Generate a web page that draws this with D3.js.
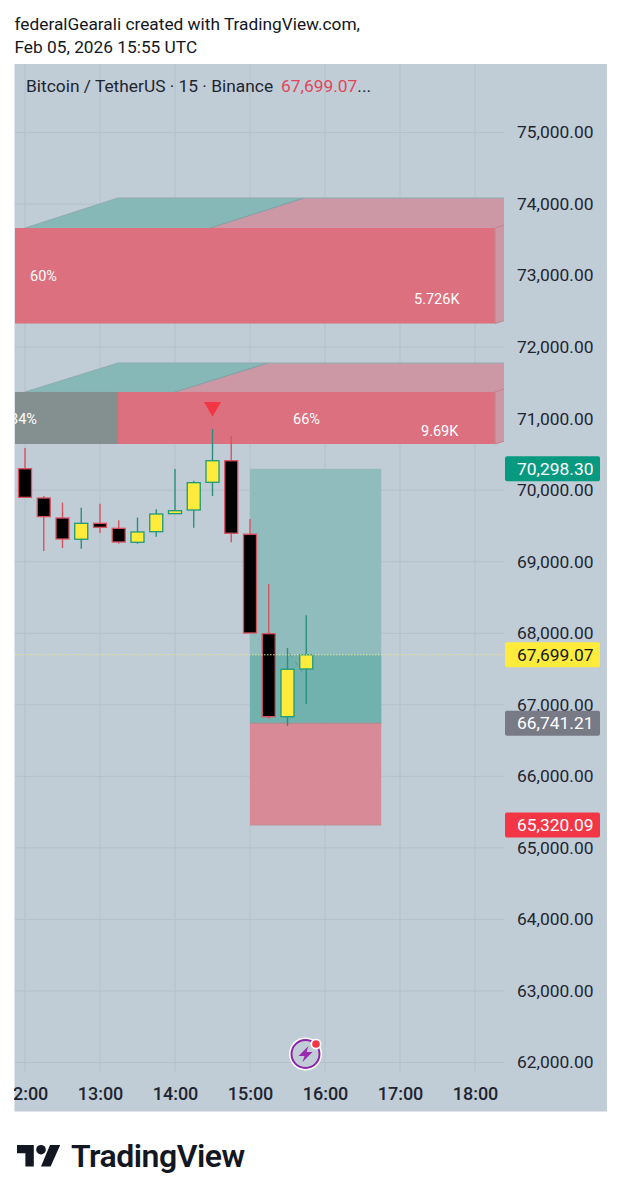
<!DOCTYPE html>
<html><head><meta charset="utf-8">
<script src="https://cdn.jsdelivr.net/npm/d3@7"></script>
<style>html,body{margin:0;padding:0;background:#fff}svg{display:block}text{font-family:Roboto,sans-serif}</style>
</head><body><svg id="c" width="622" height="1200"></svg>
<script>
const candleTimes=["12:00","12:15","12:30","12:45","13:00","13:15","13:30","13:45","14:00","14:15","14:30","14:45","15:00","15:15","15:30","15:45"];
const opens =[70300,69891,69611,69314,69537,69467,69272,69420,69672,69723,70110,70412,69384,67994,66834,67501];
const highs =[70590,69919,69825,69755,69811,69579,69616,69733,70296,70133,70856,70754,69598,68689,67794,68251];
const lows  =[69900,69150,69192,69182,69402,69252,69252,69350,69672,69476,69919,69272,68004,66806,66704,67012];
const closes=[69900,69630,69318,69537,69481,69276,69416,69667,69713,70105,70412,69398,68004,66834,67497,67699];
const priceTicks=[75000,74000,73000,72000,71000,70000,69000,68000,67000,66000,65000,64000,63000,62000];
const hourTicks=["12:00","13:00","14:00","15:00","16:00","17:00","18:00"];
const priceTags=[70298.30,67699.07,66741.21,65320.09];
const tagFills=["#089981","#ffeb3b","#787b86","#f23645"];
const tagInks=["#ffffff","#131722","#ffffff","#ffffff"];
const boxTops=[73665,71373];
const boxBottoms=[72330,70646];
const boxRoofs=[74084,71778];
const boxLabels=[["60%","5.726K"],["34%","66%","9.69K"]];
const positionTimes=["15:00","16:45"];
const positionLevels={target:70298.30,current:67699.07,entry:66741.21,stop:65320.09};

const t=s=>new Date("2026-02-05T"+s+":00Z");
const x=d3.scaleUtc().domain([t("12:00"),t("18:00")]).range([25,475]);
const y=d3.scaleLinear().domain([75000,62000]).range([132.5,1062.5]);
const fmt=d3.format(",.2f");
const svg=d3.select("#c");
const L=15,R=504,T=64,B=1072,PR=607,PB=1111.5;
const defs=svg.append("defs");
defs.append("clipPath").attr("id","pane").append("rect").attr("x",L).attr("y",T).attr("width",R-L).attr("height",B-T);
defs.append("clipPath").attr("id","tx").append("rect").attr("x",L-1).attr("y",B).attr("width",R-L).attr("height",PB-B);

svg.append("rect").attr("x",L-0.5).attr("y",T).attr("width",PR-L+0.5).attr("height",PB-T).attr("fill","#c0ccd6");

// grid
const grid="#b4c0ca";
const g=svg.append("g").attr("clip-path","url(#pane)");
g.selectAll(".v").data(hourTicks).join("line").attr("x1",d=>x(t(d))).attr("x2",d=>x(t(d))).attr("y1",T).attr("y2",B).attr("stroke",grid).attr("stroke-width",1);
g.selectAll(".h").data(priceTicks).join("line").attr("x1",L).attr("x2",R).attr("y1",d=>y(d)).attr("y2",d=>y(d)).attr("stroke",grid).attr("stroke-width",1);

// volume profile boxes
const frontRed="#dd707f",sideRed="#cc98a5",roofTeal="#86b8b8",edge="#7f9ea3";
const x0=25, dx=94;
const boxSplitTop=[210,175];
boxTops.forEach((top,i)=>{
  const yt=y(top),yb=y(boxBottoms[i]),yr=y(boxRoofs[i]);
  const ds=(yt-yr)/dx*9;
  const s=boxSplitTop[i];
  g.append("path").attr("d",`M${s},${yt}L${s+dx-(i?1:0)},${yr}L${R},${yr}L${R},${yt}Z`).attr("fill",sideRed);
  g.append("path").attr("d",`M495,${yb}L${R},${yb-ds}L${R},${yt}L495,${yt}Z`).attr("fill",sideRed);
  g.append("path").attr("d",`M${x0},${yt}L${x0+dx-1},${yr}L${s+dx-(i?1:0)},${yr}L${s},${yt}Z`).attr("fill",roofTeal);
  g.append("path").attr("d",`M${s},${yt}L${s+dx-(i?1:0)},${yr}`).attr("stroke",edge).attr("stroke-width",1).attr("fill","none");
  g.append("path").attr("d",`M${x0},${yt}L${x0+dx-1},${yr}L${R},${yr}`).attr("stroke","#8fadb1").attr("stroke-width",1).attr("fill","none");
  g.append("rect").attr("x",L).attr("y",yt).attr("width",495-L).attr("height",yb-yt).attr("fill",frontRed);
  if(i===1) g.append("rect").attr("x",L).attr("y",yt).attr("width",103).attr("height",yb-yt).attr("fill","#83908f");
  g.append("path").attr("d",`M495,${yt}L${R},${yt-ds}M495,${yb}L${R},${yb-ds}M495,${yt}V${yb}`).attr("stroke","#c4808d").attr("stroke-width",1).attr("fill","none");
});
const lab=(txt,xp,yp)=>g.append("text").attr("x",xp).attr("y",yp).attr("dy","0.35em").attr("fill","#fff").attr("font-size",14.5).text(txt);
lab(boxLabels[0][0],30,276); lab(boxLabels[0][1],414,299);
lab(boxLabels[1][0],10,419); lab(boxLabels[1][1],293,419); lab(boxLabels[1][2],421,431);

// position tool
const px1=x(t(positionTimes[0])),px2=x(t(positionTimes[1]));
const lv=positionLevels;
g.append("rect").attr("x",px1).attr("width",px2-px1).attr("y",y(lv.target)).attr("height",y(lv.entry)-y(lv.target)).attr("fill","#90bcbe");
g.append("rect").attr("x",px1).attr("width",px2-px1).attr("y",y(lv.current)).attr("height",y(lv.entry)-y(lv.current)).attr("fill","#72b2ae");
g.append("rect").attr("x",px1).attr("width",px2-px1).attr("y",y(lv.entry)).attr("height",y(lv.stop)-y(lv.entry)).attr("fill","#d98a97");
g.append("line").attr("x1",px1).attr("x2",px2).attr("y1",y(lv.entry)).attr("y2",y(lv.entry)).attr("stroke","#b8848c").attr("stroke-width",1);
g.append("line").attr("x1",px1).attr("x2",px2).attr("y1",y(lv.stop)).attr("y2",y(lv.stop)).attr("stroke","#c48a95").attr("stroke-width",1);

// dashed forecast between the last two bars
const n=candleTimes.length;
g.append("line").attr("x1",x(t(candleTimes[n-2]))+2).attr("x2",x(t(candleTimes[n-1]))-4)
 .attr("y1",y(closes[n-2])-16).attr("y2",y(opens[n-1])+3).attr("stroke","#6f8f90").attr("stroke-width",1).attr("stroke-dasharray","5 5");

// candles
const w=13;
const cg=g.selectAll(".cn").data(candleTimes).join("g");
cg.append("line").attr("x1",d=>x(t(d))).attr("x2",d=>x(t(d)))
 .attr("y1",(d,i)=>y(highs[i])).attr("y2",(d,i)=>y(lows[i]))
 .attr("stroke",(d,i)=>closes[i]>=opens[i]?"#27917f":"#d9535f").attr("stroke-width",1.4);
cg.append("rect").attr("x",d=>x(t(d))-w/2)
 .attr("y",(d,i)=>y(Math.max(opens[i],closes[i])))
 .attr("width",w)
 .attr("height",(d,i)=>Math.abs(y(opens[i])-y(closes[i])))
 .attr("fill",(d,i)=>closes[i]>=opens[i]?"#ffeb3b":"#000")
 .attr("stroke",(d,i)=>closes[i]>=opens[i]?"#1f9a78":"#d9535f").attr("stroke-width",1.3);

// signal marker above the highest bar
const hi=highs.indexOf(d3.max(highs));
const mx=x(t(candleTimes[hi])),my=y(highs[hi])-20;
g.append("path").attr("d",d3.symbol(d3.symbolTriangle,125)).attr("transform",`translate(${mx},${my-2}) rotate(180)`).attr("fill","#f23645");

// current price line
g.append("line").attr("x1",L).attr("x2",R).attr("y1",y(lv.current)).attr("y2",y(lv.current)).attr("stroke","#e8e58c").attr("stroke-width",1).attr("stroke-dasharray","1.5 1.5");

// axes
const yAxis=d3.axisRight(y).tickValues(priceTicks).tickFormat(fmt).tickSize(0).tickPadding(0);
const ya=svg.append("g").attr("transform","translate(517,-0.7)").call(yAxis);
ya.select(".domain").remove();
ya.selectAll("text").attr("font-family","Roboto").attr("font-size",17.4).attr("fill","#1e2530").attr("dy","0.35em");
const xAxis=d3.axisBottom(x).tickValues(hourTicks.map(t)).tickFormat(d3.utcFormat("%H:%M")).tickSize(0).tickPadding(0);
const xa=svg.append("g").attr("clip-path","url(#tx)").append("g").attr("transform","translate(0,1094)").call(xAxis);
xa.select(".domain").remove();
xa.selectAll("text").attr("font-family","Roboto").attr("font-size",18).attr("font-weight",500).attr("fill","#1e2530").attr("dy","0.35em");

// price tags
const tags=svg.selectAll(".tag").data(priceTags).join("g");
tags.append("rect").attr("x",505).attr("y",d=>y(d)-12.5).attr("width",95).attr("height",25).attr("rx",2).attr("fill",(d,i)=>tagFills[i]);
tags.append("text").attr("x",517).attr("y",d=>y(d)-0.3).attr("dy","0.35em").attr("font-size",17.4).attr("fill",(d,i)=>tagInks[i]).text(fmt);

// header
const hd=(s,yp)=>svg.append("text").attr("x",14.5).attr("y",yp).attr("dy","0.35em").attr("font-size",17.3).attr("fill","#131722").text(s);
hd("federalGearali created with TradingView.com,",23.5);
hd("Feb 05, 2026 15:55 UTC",46.5);
const ttl=svg.append("text").attr("x",26).attr("y",86).attr("dy","0.35em").attr("font-size",17.35).attr("fill","#1e2530");
ttl.append("tspan").text("Bitcoin / TetherUS · 15 · Binance");
ttl.append("tspan").attr("dx",8).attr("fill","#e0465a").text(fmt(lv.current));
ttl.append("tspan").text("...");

// bolt badge
const bd=svg.append("g").attr("transform","translate(305.5,1054)");
bd.append("circle").attr("r",16.5).attr("fill","#fff");
bd.append("circle").attr("r",14).attr("fill","#c0ccd6").attr("stroke","#8e24aa").attr("stroke-width",2);
bd.append("path").attr("d","M3,-8L-7,2H-1L-3,8L7,-2H1Z").attr("fill","#9c27b0");
bd.append("circle").attr("cx",10.5).attr("cy",-10).attr("r",5.5).attr("fill","#fff");
bd.append("circle").attr("cx",10.5).attr("cy",-10).attr("r",3.8).attr("fill","#f23645");

// brand
const lg=svg.append("g").attr("transform","translate(17,1136.5) scale(1.2)").attr("fill","#131722");
lg.append("path").attr("d","M14 25H7V14H0V7h14v18zM28 25h-8l7.5-18H36l-8 18z");
lg.append("circle").attr("cx",20).attr("cy",11).attr("r",4);
svg.append("text").attr("x",71).attr("y",1167).attr("font-family","Inter").attr("font-size",32).attr("font-weight",600).attr("letter-spacing",-0.5).attr("fill","#131722").text("TradingView");
</script></body></html>
